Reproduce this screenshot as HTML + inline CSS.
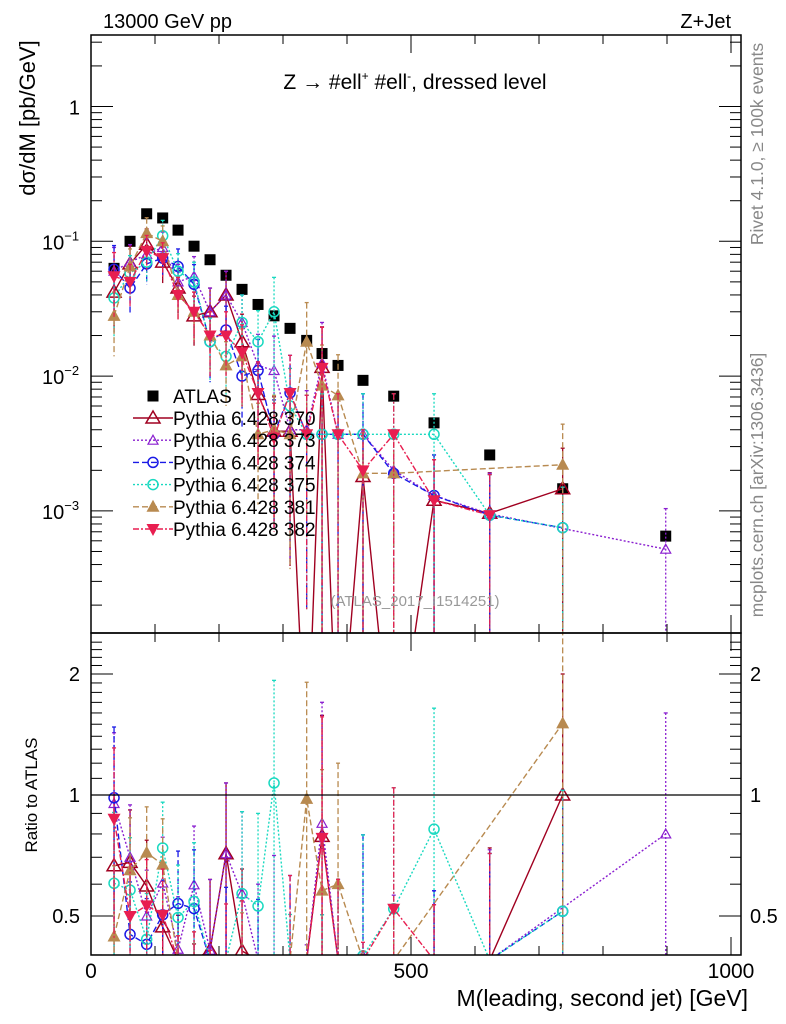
<!DOCTYPE html>
<html><head><meta charset="utf-8"><style>
html,body{margin:0;padding:0;background:#fff;overflow:hidden;width:786px;height:1024px;}
svg{display:block;font-family:"Liberation Sans",sans-serif;overflow:hidden;}
</style></head><body>
<svg id="chart" width="786" height="1024" viewBox="0 0 786 1024" xmlns="http://www.w3.org/2000/svg">
<defs>
<clipPath id="cm"><rect x="91" y="35" width="650" height="598"/></clipPath>
<clipPath id="cr"><rect x="91" y="633" width="650" height="322"/></clipPath>
</defs>
<g id="main-marks" clip-path="url(#cm)"></g>
<g id="ratio-marks" clip-path="url(#cr)"></g>
<rect x="91" y="35" width="650" height="598" fill="none" stroke="#000" stroke-width="1.5"/>
<rect x="91" y="633" width="650" height="322" fill="none" stroke="#000" stroke-width="1.5"/>
<g id="axes-layer"></g>
<text x="103" y="28" font-size="20">13000 GeV pp</text>
<text x="731" y="28" font-size="20" text-anchor="end">Z+Jet</text>
<text x="415" y="89" font-size="21" text-anchor="middle">Z → #ell<tspan font-size="12" dy="-9">+</tspan><tspan dy="9"> #ell</tspan><tspan font-size="12" dy="-9">-</tspan><tspan dy="9">, dressed level</tspan></text>
<text x="415" y="606" font-size="15" fill="#999" text-anchor="middle">(ATLAS_2017_I1514251)</text>
<text transform="translate(35,118) rotate(-90)" font-size="22" text-anchor="middle">dσ/dM [pb/GeV]</text>
<text transform="translate(37,795) rotate(-90)" font-size="17" text-anchor="middle">Ratio to ATLAS</text>
<text x="748" y="1006" font-size="23" text-anchor="end">M(leading, second jet) [GeV]</text>
<text transform="translate(763,144) rotate(-90)" font-size="17.5" fill="#888" text-anchor="middle">Rivet 4.1.0, ≥ 100k events</text>
<text transform="translate(763,485) rotate(-90)" font-size="17.5" fill="#888" text-anchor="middle">mcplots.cern.ch [arXiv:1306.3436]</text>
<g id="legend"></g>
</svg>
<script>
const bins = [36,61,87,112,136,161,186,211,236,261,286,311,337,361,386,425,473,536,623,737,898];
const atlas = [0.063,0.1,0.16,0.149,0.121,0.092,0.073,0.056,0.044,0.034,0.028,0.0226,0.0184,0.0147,0.012,0.0093,0.0071,0.0045,0.0026,0.00146,0.00065];
const p370 = [0.042,0.068,0.095,0.07,0.045,0.028,0.03,0.04,0.018,0.0073,0.0039,0.0039,0.00001,0.0116,0.00001,0.0018,0.00001,0.0012,0.00096,0.00146,null];
const p373 = [0.06,0.07,0.08,0.09,0.05,0.055,0.03,0.04,0.025,0.012,0.011,0.004,0.004,0.0125,0.0037,0.0037,0.002,0.0013,0.00095,null,0.00052];
const p374 = [0.062,0.045,0.068,0.075,0.065,0.048,0.018,0.022,0.01,0.011,0.0037,0.0075,0.0037,0.0037,0.0037,0.0037,0.0019,0.0013,0.00093,0.00075,null];
const p375 = [0.038,0.058,0.07,0.11,0.06,0.05,0.018,0.014,0.025,0.018,0.03,0.006,0.0037,0.0037,0.0037,0.0037,0.0037,0.0037,0.00093,0.00075,null];
const p381 = [0.028,0.065,0.115,0.1,0.04,0.03,0.02,0.012,0.014,0.0037,0.004,0.0037,0.018,0.0085,0.0072,0.0019,0.0019,null,null,0.0022,null];
const p382 = [0.055,0.05,0.085,0.075,0.04,0.03,0.02,0.02,0.015,0.0075,0.0035,0.0075,0.0037,0.0115,0.0037,0.002,0.0037,0.0012,0.00093,null,null];
const relErr = [0.5,0.35,0.3,0.3,0.35,0.4,0.5,0.5,0.6,0.7,0.8,0.9,0.95,1,1,1,1,1,1,1,1];
const mainTicks = ["1","10","10","10"];
const mainTickExp = ["", "−1","−2","−3"];
const ratioTicks = [0.5,1,2];
const xTicks = [0,500,1000];

const NS="http://www.w3.org/2000/svg";
const clampY = y => Math.min(960, Math.max(30, y));
const X = v => 91 + v*0.64;
const Ym = v => clampY(106.5 - Math.log10(v)*134.8);
const Yr = v => clampY(795 - Math.log2(v)*121);
function el(tag, attrs, parent){const e=document.createElementNS(NS,tag);for(const k in attrs)e.setAttribute(k,attrs[k]);parent.appendChild(e);return e;}
const axes=document.getElementById('axes-layer');
const mainG=document.getElementById('main-marks');
const ratioG=document.getElementById('ratio-marks');

for(let v=0; v<=1000; v+=100){
  const big = v%500===0;
  const t1=el('line',{x1:X(v),x2:X(v),y1:955,y2:955-(big?18:9),stroke:'#000'},axes);
  
  
  const t2=el('line',{x1:X(v),x2:X(v),y1:633,y2:633-(big?18:9),stroke:'#000'},axes);
  
  
  const t3=el('line',{x1:X(v),x2:X(v),y1:35,y2:35+(big?18:9),stroke:'#000'},axes);
  
  
  const t4=el('line',{x1:X(v),x2:X(v),y1:633,y2:633+(big?18:9),stroke:'#000'},axes);
  
  
}
xTicks.forEach(v=>{
  const t=el('text',{x:X(v),y:978,'font-size':21,'text-anchor':'middle'},axes);
  t.textContent=v;
  
  
});
for(let d=1; d>=-4; d--){
  for(let m=1;m<=9;m++){
    const v=m*Math.pow(10,d); const y=106.5 - Math.log10(v)*134.8;
    if(y<35||y>633) continue;
    const len = m===1?22:11;
    const a=el('line',{x1:91,x2:91+len,y1:y,y2:y,stroke:'#000'},axes);
    
    
    const b=el('line',{x1:741,x2:741-len,y1:y,y2:y,stroke:'#000'},axes);
    
    
  }
}
mainTicks.forEach((lab,i)=>{
  const y=Ym(Math.pow(10,-i));
  const t=el('text',{x:i===0?80:42,y:y+8,'font-size':20,'text-anchor':i===0?'end':'start'},axes);
  t.textContent=lab;
  if(mainTickExp[i]){const s=el('tspan',{'font-size':13,dy:-9},t);s.textContent=mainTickExp[i];}
  
  
});
for(let v=0.4; v<=2.5; v+=0.1){
  const y=795 - Math.log2(v)*121; if(y<633||y>955) continue;
  const major=[0.5,1,2].some(m=>Math.abs(m-v)<1e-6);
  const len=major?22:11;
  const a=el('line',{x1:91,x2:91+len,y1:y,y2:y,stroke:'#000'},axes);
  
  
  const b=el('line',{x1:741,x2:741-len,y1:y,y2:y,stroke:'#000'},axes);
  
  
}
ratioTicks.forEach(v=>{
  const y=Yr(v);
  const t=el('text',{x:80,y:y+7,'font-size':20,'text-anchor':'end'},axes);
  t.textContent=v;
  
  
  const t2=el('text',{x:750,y:y+7,'font-size':20,'text-anchor':'start'},axes);
  t2.textContent=v;
  
  
});
const one=el('line',{x1:91,x2:741,y1:Yr(1),y2:Yr(1),stroke:'#000','stroke-width':1.2},axes);



function marker(g,type,x,y,color){
  if(type==='square') return el('rect',{x:x-5.5,y:y-5.5,width:11,height:11,fill:'#000'},g);
  if(type==='circ') return el('circle',{cx:x,cy:y,r:5,fill:'none',stroke:color,'stroke-width':1.5},g);
  if(type==='tri') return el('polygon',{points:`${x},${y-7} ${x-7},${y+5} ${x+7},${y+5}`,fill:'none',stroke:color,'stroke-width':1.5},g);
  if(type==='stri') return el('polygon',{points:`${x},${y-5} ${x-5},${y+4} ${x+5},${y+4}`,fill:'none',stroke:color,'stroke-width':1.2},g);
  if(type==='ftri') return el('polygon',{points:`${x},${y-7} ${x-6.5},${y+5} ${x+6.5},${y+5}`,fill:color},g);
  if(type==='dtri') return el('polygon',{points:`${x},${y+7} ${x-6.5},${y-5} ${x+6.5},${y-5}`,fill:color},g);
}
const series=[
 {name:'Pythia 6.428 370',data:p370,color:'#a00020',dash:'',m:'tri',key:'370'},
 {name:'Pythia 6.428 373',data:p373,color:'#8a1fd0',dash:'2,2',m:'stri',key:'373'},
 {name:'Pythia 6.428 374',data:p374,color:'#1a1ae6',dash:'6,3',m:'circ',key:'374'},
 {name:'Pythia 6.428 375',data:p375,color:'#19d9c0',dash:'2,2',m:'circ',key:'375'},
 {name:'Pythia 6.428 381',data:p381,color:'#b88a50',dash:'6,3',m:'ftri',key:'381'},
 {name:'Pythia 6.428 382',data:p382,color:'#e81e50',dash:'6,2,2,2',m:'dtri',key:'382'}
];
function drawSeries(g,vals,Yf,s,panel){
  let pts=[];
  vals.forEach((v,i)=>{ if(v==null) return; pts.push([X(bins[i]),Yf(Math.max(v,1e-6))]); });
  const line=el('polyline',{points:pts.map(p=>p.join(',')).join(' '),fill:'none',stroke:s.color,'stroke-width':1.4,'stroke-dasharray':s.dash},g);
  
  
  vals.forEach((v,i)=>{
    if(v==null) return;
    const x=X(bins[i]);
    const hi=v*(1+relErr[i]), lo=Math.max(v*(1-relErr[i]),1e-6);
    const eb=el('line',{x1:x,x2:x,y1:Yf(hi),y2:Yf(lo),stroke:s.color,'stroke-width':1.3,'stroke-dasharray':s.dash},g);
    
    
    const cap=el('line',{x1:x-2,x2:x+2,y1:Yf(hi),y2:Yf(hi),stroke:s.color,'stroke-width':1.3},g);
    
    
    if(v<1e-5) return;
    const y=Yf(v);
    if(y>=958) return;
    const mk=marker(g,s.m,x,y,s.color);
    
    
  });
}
atlas.forEach((v,i)=>{
  const mk=marker(mainG,'square',X(bins[i]),Ym(v),'#000');
  
  
});
series.forEach(s=>{
  drawSeries(mainG,s.data,Ym,s,'main');
  const ratio=s.data.map((v,i)=>v==null?null:v/atlas[i]);
  drawSeries(ratioG,ratio,Yr,s,'ratio');
});
const lg=document.getElementById('legend');
const lm=marker(lg,'square',153,396,'#000');


const lt=el('text',{x:173,y:403,'font-size':19},lg);
lt.textContent='ATLAS';


series.forEach((s,k)=>{
  const y=418+k*22.2;
  const l=el('line',{x1:133,x2:173,y1:y,y2:y,stroke:s.color,'stroke-width':1.4,'stroke-dasharray':s.dash},lg);
  
  
  const m=marker(lg,s.m,153,y,s.color);
  
  
  const t=el('text',{x:173,y:y+7,'font-size':19},lg);
  t.textContent=s.name;
  
  
});
</script>
</body></html>
